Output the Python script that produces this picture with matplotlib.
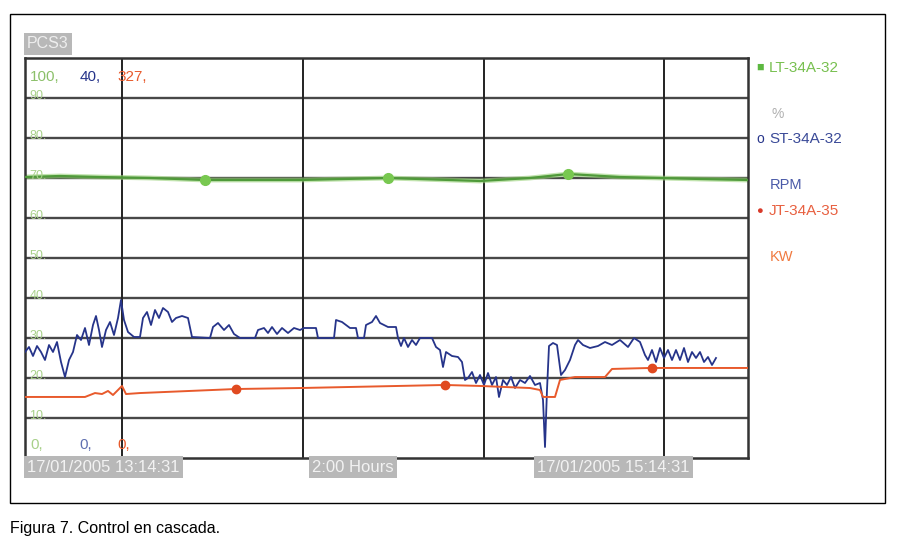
import matplotlib
matplotlib.use("Agg")
import matplotlib.pyplot as plt
import numpy as np
from matplotlib.patches import Rectangle

plt.rcParams['font.family'] = ['Liberation Sans', 'DejaVu Sans']

# time in seconds from start of trend window (2 hours shown)
span = 7230
grid_times = [970, 2780, 4590, 6390]

# LT-34A-32 level, %  (range 0-100)
lt_t = [0, 350, 750, 1250, 1800, 2750, 3630, 4550, 5050, 5430, 5950, 6750, 7230]
lt_v = [70.25, 70.5, 70.25, 70.0, 69.5, 69.5, 70.0, 69.25, 70.0, 71.0, 70.25, 69.75, 69.5]
lt_marks = [1800, 3630, 5430]

# ST-34A-32 speed, RPM  (range 0-40)
st_t = [0, 40, 80, 120, 160, 200, 240, 280, 320, 360, 400, 440, 480, 520, 560, 600, 640, 680,
        710, 740, 770, 810, 850, 890, 930, 960, 990, 1030, 1090, 1150, 1180, 1220, 1260, 1300,
        1340, 1380, 1430, 1470, 1510, 1570, 1630, 1670, 1850, 1880, 1930, 1990, 2040, 2090,
        2150, 2300, 2330, 2390, 2430, 2470, 2520, 2570, 2630, 2690, 2750, 2790, 2910, 2930,
        3090, 3110, 3170, 3250, 3310, 3330, 3390, 3410, 3470, 3510, 3550, 3630, 3710, 3730,
        3760, 3790, 3830, 3870, 3910, 3950, 4070, 4110, 4150, 4180, 4210, 4270, 4330, 4370,
        4400, 4430, 4470, 4510, 4550, 4590, 4630, 4670, 4710, 4740, 4780, 4820, 4860, 4900,
        4950, 5000, 5050, 5100, 5150, 5180, 5200, 5220, 5240, 5280, 5320, 5360, 5400, 5450,
        5500, 5530, 5580, 5650, 5730, 5800, 5870, 5950, 6030, 6090, 6150, 6200, 6230, 6270,
        6310, 6350, 6390, 6430, 6470, 6510, 6550, 6590, 6630, 6670, 6710, 6750, 6790, 6830,
        6870, 6910]
st_v = [10.6, 11.1, 10.2, 11.2, 10.6, 9.8, 11.3, 10.6, 11.6, 9.6, 8.1, 9.8, 10.6, 12.3, 11.8,
        13.0, 11.3, 13.3, 14.2, 12.8, 11.1, 12.8, 13.6, 12.3, 14.0, 15.8, 13.8, 12.6, 12.1, 12.1,
        14.0, 14.6, 13.3, 14.8, 14.0, 15.0, 14.6, 13.6, 14.0, 14.2, 14.0, 12.1, 12.0, 13.1, 13.5,
        12.8, 13.3, 12.4, 12.0, 12.0, 12.8, 13.0, 12.5, 13.1, 12.4, 13.0, 12.5, 13.0, 12.8, 13.0,
        13.0, 12.0, 12.0, 13.8, 13.6, 13.0, 13.0, 12.0, 12.0, 13.3, 13.6, 14.2, 13.5, 13.1, 13.1,
        12.0, 11.2, 12.0, 11.1, 11.8, 11.3, 12.0, 12.0, 11.1, 10.8, 9.1, 10.6, 10.2, 10.1, 9.6,
        7.8, 8.0, 8.6, 7.5, 8.3, 7.3, 8.5, 7.3, 8.1, 6.1, 7.8, 7.3, 8.1, 7.0, 7.8, 7.5, 8.2, 7.3,
        7.5, 5.8, 1.1, 6.8, 11.2, 11.5, 11.3, 8.3, 8.8, 9.8, 11.3, 11.8, 11.3, 11.0, 11.2, 11.6,
        11.3, 11.8, 11.1, 12.0, 11.6, 10.3, 9.8, 10.8, 9.6, 11.0, 10.0, 10.8, 9.8, 10.8, 9.8,
        11.0, 9.6, 10.6, 10.0, 10.6, 9.6, 10.1, 9.3, 10.0]

# JT-34A-35 power, kW  (range 0-327)
jt_t = [0, 600, 700, 770, 830, 880, 930, 970, 1010, 1150, 2110, 2750, 4200, 4550, 5050, 5150,
        5180, 5300, 5350, 5500, 5800, 5870, 6250, 7230]
jt_v = [49.9, 49.9, 53.1, 52.3, 54.8, 51.5, 55.6, 58.9, 52.3, 53.1, 56.4, 57.2, 59.7, 58.9,
        57.2, 55.6, 49.9, 49.9, 63.8, 66.2, 66.2, 72.8, 73.6, 73.6]
jt_marks = [2110, 4200, 6270]

ranges = {'LT': 100.0, 'ST': 40.0, 'JT': 327.0}
green, blue, red = '#4f9a3a', '#26348a', '#e85a2c'

fig = plt.figure(figsize=(8.98, 5.46), dpi=100)
fig.patches.append(Rectangle((10 / 898, 43 / 546), 875 / 898, 489 / 546, transform=fig.transFigure,
                             fill=False, edgecolor='black', linewidth=1.0))

ax = fig.add_axes([25 / 898, 88 / 546, 723 / 898, 400 / 546])
ax.set_xlim(0, span)
ax.set_ylim(0, 100)
for y in range(10, 100, 10):
    ax.axhline(y, color='#484848', linewidth=1.7, zorder=1)
for t in grid_times:
    ax.axvline(t, color='#222222', linewidth=1.4, zorder=1)
for s in ax.spines.values():
    s.set_color('#333333')
    s.set_linewidth(1.8)
ax.set_xticks([])
ax.set_yticks([])

lt_p = np.array(lt_v) / ranges['LT'] * 100
st_p = np.array(st_v) / ranges['ST'] * 100
jt_p = np.array(jt_v) / ranges['JT'] * 100

ax.plot(lt_t, lt_p, color='#9ad27a', linewidth=3.5, alpha=0.6, zorder=2)
ax.plot(lt_t, lt_p, color=green, linewidth=1.6, zorder=3)
ax.plot(lt_marks, np.interp(lt_marks, lt_t, lt_p), 'o', color='#78c850', markersize=7, zorder=4)

ax.plot(st_t, st_p, color=blue, linewidth=1.3, zorder=3)

ax.plot(jt_t, jt_p, color=red, linewidth=1.4, zorder=3)
ax.plot(jt_marks, np.interp(jt_marks, jt_t, jt_p), 'o', color='#e04a20', markersize=6, zorder=4)

# scale labels inside plot
ax.text(0.007, 0.97, '100,', color='#8cc06a', fontsize=11, transform=ax.transAxes, va='top')
ax.text(0.075, 0.97, '40,', color=blue, fontsize=11, transform=ax.transAxes, va='top')
ax.text(0.128, 0.97, '327,', color=red, fontsize=11, transform=ax.transAxes, va='top')
ax.text(0.007, 0.015, '0,', color='#a8d08a', fontsize=11, transform=ax.transAxes, va='bottom')
ax.text(0.075, 0.015, '0,', color='#6070b0', fontsize=11, transform=ax.transAxes, va='bottom')
ax.text(0.128, 0.015, '0,', color=red, fontsize=11, transform=ax.transAxes, va='bottom')
for y in range(10, 100, 10):
    ax.text(0.006, y / 100 + 0.005, '%d.' % y, color='#a8d08a', fontsize=9, transform=ax.transAxes,
            va='center', zorder=5)

box = dict(boxstyle='square,pad=0.2', facecolor='#b8b8b8', edgecolor='none')
fig.text(27 / 898, 1 - 44 / 546, 'PCS3', color='#eeeeee', fontsize=11.5, va='center', bbox=box)
fig.text(27 / 898, 1 - 467 / 546, '17/01/2005 13:14:31', color='#f2f2f2', fontsize=12,
         va='center', bbox=box)
fig.text(312 / 898, 1 - 467 / 546, '2:00 Hours', color='#f2f2f2', fontsize=12,
         va='center', bbox=box)
fig.text(537 / 898, 1 - 467 / 546, '17/01/2005 15:14:31', color='#f2f2f2', fontsize=12,
         va='center', bbox=box)

# legend on the right
fig.text(756 / 898, 1 - 68 / 546, '\u25a0', color='#5cb840', fontsize=9, va='center')
fig.text(769 / 898, 1 - 68 / 546, 'LT-34A-32', color='#78c050', fontsize=11, va='center')
fig.text(772 / 898, 1 - 114 / 546, '%', color='#b0b0b0', fontsize=10, va='center')
fig.text(756 / 898, 1 - 139 / 546, 'o', color=blue, fontsize=10, va='center')
fig.text(769 / 898, 1 - 139 / 546, 'ST-34A-32', color='#3a4a98', fontsize=11, va='center')
fig.text(770 / 898, 1 - 185 / 546, 'RPM', color='#4a5aa8', fontsize=10.5, va='center')
fig.text(756 / 898, 1 - 211 / 546, '\u25cf', color='#d83a2a', fontsize=8, va='center')
fig.text(769 / 898, 1 - 211 / 546, 'JT-34A-35', color='#e86040', fontsize=11, va='center')
fig.text(770 / 898, 1 - 257 / 546, 'KW', color='#f07a40', fontsize=10.5, va='center')

fig.text(10 / 898, 1 - 528 / 546, 'Figura 7. Control en cascada.', color='black', fontsize=11.5,
         va='center')

fig.savefig('out.png', dpi=100)
